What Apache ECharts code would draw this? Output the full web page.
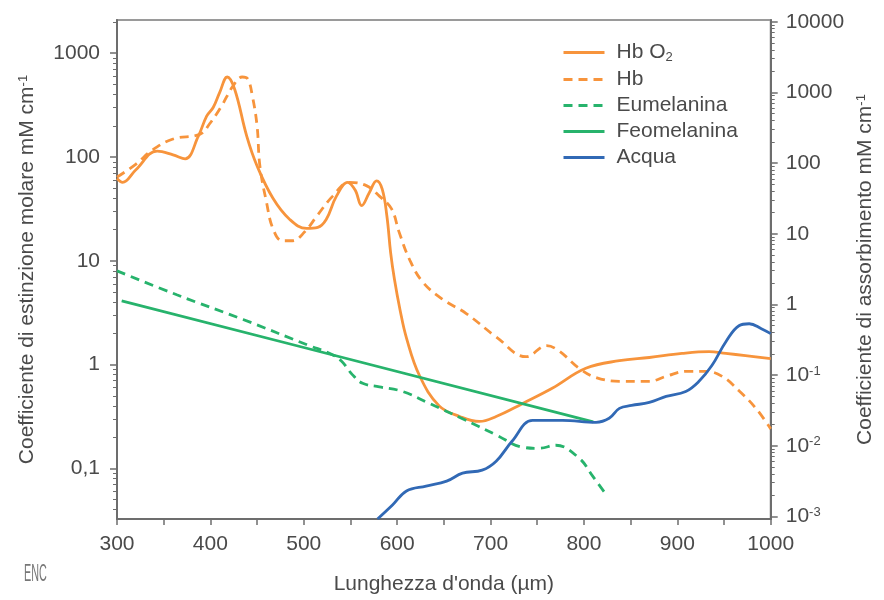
<!DOCTYPE html>
<html><head><meta charset="utf-8">
<script src="https://cdn.jsdelivr.net/npm/echarts@6/dist/echarts.min.js"></script>
<style>html,body{margin:0;padding:0;background:#fff}#c{width:884px;height:600px}</style>
</head><body><div id="c"></div>
<script>
// wavelength (nm) / value pairs
const hbO2 = [[300,62],[306,57],[320,75],[343,114],[360,105],[373,96],[387,158],[396,248],[403,300],[410,420],[418,590],[426,450],[439,158],[450,82],[467,40],[485,25],[503,20.5],[515,21],[524,25],[535,42],[547,57],[555,48],[562,34],[570,45],[578,59],[584,49],[589,27],[593,12],[597,6.7],[603,3.4],[610,1.8],[624,0.78],[645,0.40],[667,0.316],[688,0.283],[706,0.316],[734,0.42],[766,0.59],[802,0.92],[838,1.09],[870,1.17],[905,1.28],[934,1.33],[952,1.28],[973,1.22],[1000,1.14]];
const hb = [[300,64],[320,85],[338,117],[360,149],[389,166],[399,208],[412,310],[424,480],[434,590],[440,565],[445,386],[450,199],[453,82],[460,37],[467,20.4],[477,15.6],[488,15.6],[501,19],[514,27],[531,42],[549,57],[567,53],[581,42],[594,31.6],[602,19],[613,10.4],[627,6.3],[648,4.3],[674,3.1],[706,1.85],[738,1.19],[760,1.52],[773,1.36],[795,0.92],[813,0.75],[838,0.69],[870,0.69],[888,0.77],[909,0.86],[931,0.86],[948,0.77],[966,0.56],[984,0.38],[1000,0.24]];
const eumelanina = [[300,8],[364,4.7],[435,2.72],[506,1.52],[528,1.28],[540,1.09],[552,0.8],[563,0.66],[581,0.61],[606,0.55],[635,0.42],[670,0.30],[706,0.21],[734,0.16],[752,0.156],[770,0.167],[795,0.125],[809,0.085],[825,0.054]];
const feomelanina = [[305,4.1],[500,1.46],[810,0.28]];
const acqua = [[579,0.00092],[595,0.00145],[610,0.00229],[631,0.00269],[653,0.00316],[670,0.0041],[691,0.00452],[706,0.00605],[723,0.0116],[745,0.0229],[777,0.0229],[813,0.0215],[827,0.0245],[838,0.0338],[851,0.0372],[870,0.0411],[888,0.0499],[909,0.0587],[923,0.0813],[937,0.1365],[952,0.297],[966,0.50],[977,0.533],[990,0.454],[1000,0.386]];

const leftMajor = [0.1, 1, 10, 100, 1000];
const rightMajor = [0.001, 0.01, 0.1, 1, 10, 100, 1000, 10000];
const xTicks = [300, 400, 500, 600, 700, 800, 900, 1000];

const LMIN = 0.0325, LMAX = 2090, RMIN = 0.00092, RMAX = 10600;
function minors(lo, hi) {
  const out = [];
  for (let e = -4; e <= 4; e++) for (let m = 2; m <= 9; m++) {
    const v = +(m * Math.pow(10, e)).toPrecision(3);
    if (v > lo && v < hi) out.push(v);
  }
  return out;
}

const ORANGE = '#F7943C', GREEN = '#27B36C', BLUE = '#3169B5';
const TXT = '#4a4a4a', AX = '#6d6d6d';
const FONT = 'Liberation Sans, Arial, sans-serif';

const chart = echarts.init(document.getElementById('c'));
const supRich = { sup: { fontSize: 13, verticalAlign: 'top', color: TXT, fontFamily: FONT } };

function lineSeries(name, data, color, dashed, yIdx, smooth) {
  return {
    name, type: 'line', data, yAxisIndex: yIdx, symbol: 'none', smooth: smooth,
    lineStyle: { color, width: 2.8, type: dashed ? [9, 6] : 'solid' },
    itemStyle: { color }, z: 3
  };
}

chart.setOption({
  animation: false,
  textStyle: { fontFamily: FONT },
  grid: { left: 117, right: 112, top: 20, bottom: 79, show: true, borderColor: '#9a9a9a', borderWidth: 2 },
  legend: {
    orient: 'vertical', left: 562, top: 42, padding: 0, itemWidth: 41, itemHeight: 14, itemGap: 5,
    itemStyle: { opacity: 0 },
    lineStyle: { width: 3 },
    textStyle: { fontSize: 21, color: TXT, fontFamily: FONT, padding: [0, 0, 0, 7],
      rich: { t: { fontSize: 21, color: TXT, fontFamily: FONT }, s: { fontSize: 13, color: TXT, fontFamily: FONT, verticalAlign: 'bottom', padding: [10, 0, 0, 0] } } },
    formatter: n => n === 'Hb O2' ? '{t|Hb O}{s|2}' : '{t|' + n + '}',
    data: ['Hb O2', 'Hb', 'Eumelanina', 'Feomelanina', 'Acqua']
  },
  xAxis: {
    type: 'value', min: 300, max: 1000, interval: 50,
    name: "Lunghezza d'onda (µm)", nameLocation: 'middle', nameGap: 55,
    nameTextStyle: { fontSize: 21, color: TXT, fontFamily: FONT },
    axisLine: { onZero: false, lineStyle: { color: AX, width: 2 } },
    axisTick: { length: 6, lineStyle: { color: AX, width: 1.5 } },
    axisLabel: { fontSize: 21, color: TXT, margin: 15, formatter: v => xTicks.indexOf(v) >= 0 ? String(v) : '' },
    splitLine: { show: false }
  },
  yAxis: [
    {
      type: 'log', logBase: 10, min: LMIN, max: LMAX, position: 'left',
      name: 'Coefficiente di estinzione molare mM cm{sup|-1}', nameLocation: 'middle', nameGap: 79, nameRotate: 90,
      nameTextStyle: { fontSize: 21, color: TXT, fontFamily: FONT, rich: supRich },
      axisLine: { show: true, onZero: false, lineStyle: { color: AX, width: 2 } },
      axisTick: { show: true, length: 7, customValues: leftMajor, lineStyle: { color: AX, width: 1.5 } },
      axisLabel: { fontSize: 21, color: TXT, margin: 17, customValues: leftMajor,
        formatter: v => String(v).replace('.', ',') },
      splitLine: { show: false }
    },
    {
      type: 'log', logBase: 10, min: RMIN, max: RMAX, position: 'right',
      name: 'Coefficiente di assorbimento mM cm{sup|-1}', nameLocation: 'middle', nameGap: 79, nameRotate: 90,
      nameTextStyle: { fontSize: 21, color: TXT, fontFamily: FONT, rich: supRich },
      axisLine: { show: true, onZero: false, lineStyle: { color: AX, width: 2 } },
      axisTick: { show: true, length: 7, customValues: rightMajor, lineStyle: { color: AX, width: 1.5 } },
      axisLabel: { fontSize: 21, color: TXT, margin: 15, customValues: rightMajor, rich: supRich,
        formatter: v => { const e = Math.round(Math.log10(v)); return e < 0 ? '10{sup|' + e + '}' : String(Math.round(v)); } },
      splitLine: { show: false }
    },
    {
      type: 'log', logBase: 10, min: LMIN, max: LMAX, position: 'left',
      axisLine: { show: false }, axisLabel: { show: false }, splitLine: { show: false },
      axisTick: { show: true, length: 4, customValues: minors(LMIN, LMAX), lineStyle: { color: AX, width: 1 } }
    },
    {
      type: 'log', logBase: 10, min: RMIN, max: RMAX, position: 'right',
      axisLine: { show: false }, axisLabel: { show: false }, splitLine: { show: false },
      axisTick: { show: true, length: 4, customValues: minors(RMIN, RMAX), lineStyle: { color: AX, width: 1 } }
    }
  ],
  graphic: [{
    type: 'text', left: 24, top: 562, scaleX: 0.45,
    style: { text: 'ENC', fontSize: 24, fill: '#777', fontFamily: FONT }
  }],
  series: [
    lineSeries('Hb O2', hbO2, ORANGE, false, 0, 0.4),
    lineSeries('Hb', hb, ORANGE, true, 0, 0.4),
    lineSeries('Eumelanina', eumelanina, GREEN, true, 0, 0.4),
    lineSeries('Feomelanina', feomelanina, GREEN, false, 0, false),
    lineSeries('Acqua', acqua, BLUE, false, 1, 0.4)
  ]
});
</script></body></html>
